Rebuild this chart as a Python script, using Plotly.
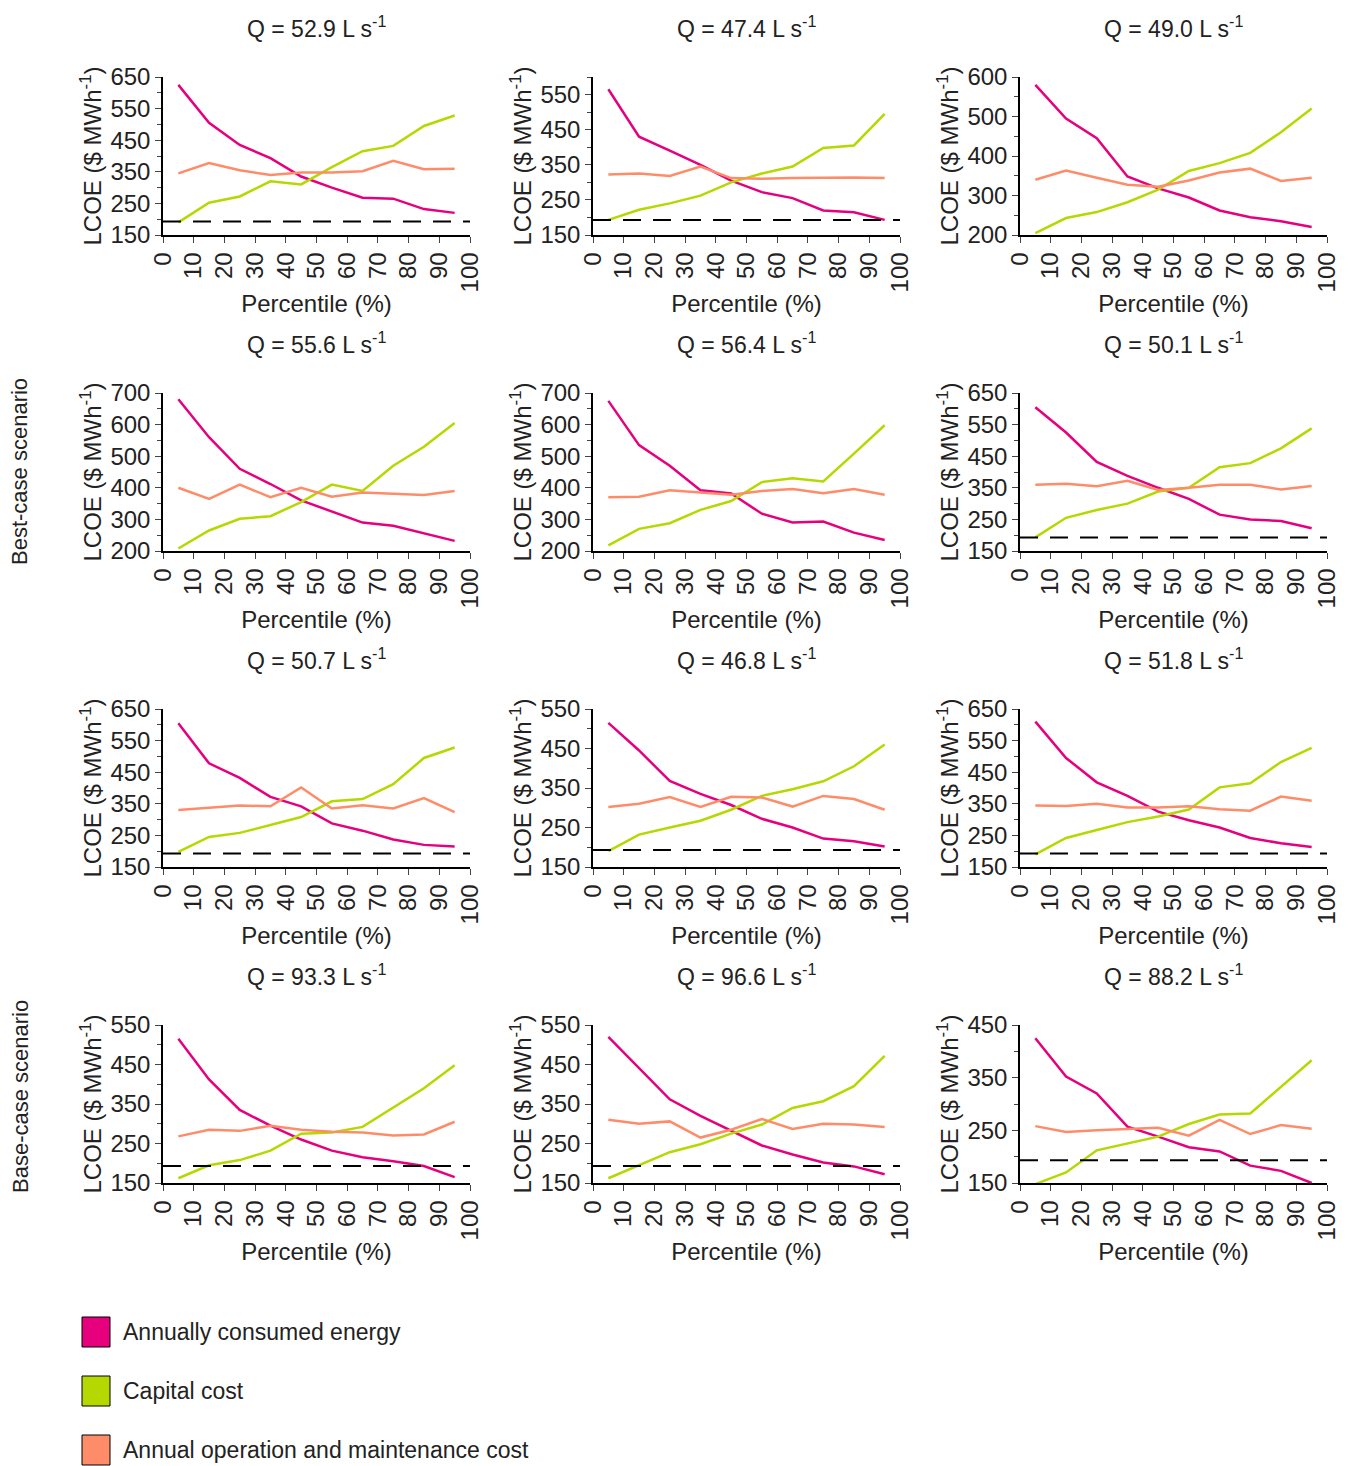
import plotly.graph_objects as go
from plotly.subplots import make_subplots

x = [5, 15, 25, 35, 45, 55, 65, 75, 85, 95]
titles = ["52.9", "47.4", "49.0", "55.6", "56.4", "50.1", "50.7", "46.8", "51.8", "93.3", "96.6", "88.2"]
ranges = [(150, 650), (150, 600), (200, 600), (200, 700), (200, 700), (150, 650),
          (150, 650), (150, 550), (150, 650), (150, 550), (150, 550), (150, 450)]
energy = [
    [625, 505, 435, 393, 335, 300, 268, 265, 232, 220],
    [565, 430, 390, 350, 305, 272, 255, 220, 215, 193],
    [580, 495, 445, 348, 318, 295, 262, 245, 235, 220],
    [680, 560, 460, 412, 360, 325, 290, 280, 255, 232],
    [675, 535, 470, 392, 382, 318, 290, 293, 258, 235],
    [605, 525, 432, 388, 350, 315, 265, 250, 245, 222],
    [605, 478, 432, 372, 342, 288, 265, 237, 220, 215],
    [515, 445, 368, 335, 307, 272, 250, 222, 215, 202],
    [610, 495, 418, 375, 325, 298, 275, 242, 225, 213],
    [515, 412, 335, 295, 260, 232, 215, 205, 193, 165],
    [520, 440, 362, 320, 282, 245, 222, 202, 192, 172],
    [425, 352, 320, 257, 238, 218, 210, 183, 173, 150],
]
capital = [
    [190, 252, 272, 320, 310, 365, 415, 432, 495, 528],
    [193, 222, 240, 262, 300, 325, 345, 398, 405, 495],
    [205, 243, 258, 283, 315, 362, 382, 408, 460, 520],
    [208, 265, 302, 310, 355, 410, 390, 470, 530, 605],
    [218, 270, 288, 330, 358, 418, 430, 420, 508, 598],
    [193, 255, 280, 300, 338, 350, 415, 428, 475, 538],
    [198, 245, 258, 283, 308, 358, 365, 412, 495, 528],
    [190, 232, 250, 267, 295, 330, 347, 367, 405, 460],
    [190, 242, 267, 292, 310, 332, 402, 415, 482, 527],
    [162, 195, 208, 232, 275, 278, 292, 342, 390, 448],
    [162, 195, 228, 248, 275, 298, 340, 357, 395, 472],
    [148, 170, 212, 225, 238, 262, 280, 282, 332, 383],
]
om = [
    [345, 378, 355, 340, 348, 348, 352, 385, 358, 360],
    [322, 325, 318, 345, 312, 310, 312, 313, 314, 312],
    [340, 363, 345, 327, 322, 338, 358, 368, 337, 345],
    [400, 365, 410, 370, 400, 372, 385, 380, 377, 390],
    [370, 372, 392, 384, 378, 390, 396, 383, 396, 378],
    [360, 363, 355, 372, 343, 350, 360, 360, 345, 356],
    [330, 338, 345, 342, 402, 335, 345, 335, 368, 324],
    [302, 310, 327, 302, 328, 326, 303, 330, 322, 295],
    [345, 343, 350, 338, 338, 342, 333, 328, 373, 360],
    [268, 285, 282, 295, 285, 280, 278, 270, 273, 305],
    [310, 300, 306, 265, 285, 312, 287, 300, 298, 292],
    [258, 247, 250, 253, 255, 240, 270, 243, 260, 253],
]
reference_lcoe = 193
names = ["Annually consumed energy", "Capital cost", "Annual operation and maintenance cost"]
colors = ["#e6007e", "#b5d900", "#ff8c69"]

OFF = 8
W, H = 1348 - 2 * OFF, 1466 - OFF
colx = [(163, 470), (593, 900), (1020, 1327)]
rowy = [(77, 235), (393, 551), (709, 867), (1025, 1183)]
FONT = "Liberation Sans, Arial, sans-serif"

def px(v):
    return (v - OFF) / W

def py(v):
    return 1 - (v - OFF) / H

fig = make_subplots(rows=4, cols=3)
ann = []
for i in range(12):
    r, c = i // 3, i % 3
    for series, col, nm in zip([energy, capital, om], colors, names):
        fig.add_trace(go.Scatter(x=x, y=series[i], mode="lines", line=dict(color=col, width=2.5),
                                 name=nm, showlegend=False), row=r + 1, col=c + 1)
    lo, hi = ranges[i]
    if lo < reference_lcoe:
        fig.add_trace(go.Scatter(x=[0, 100], y=[reference_lcoe] * 2, mode="lines",
                                 line=dict(color="black", width=2, dash="18px,12px"),
                                 showlegend=False), row=r + 1, col=c + 1)
    x0, x1 = colx[c]; y0, y1 = rowy[r]
    fig.update_xaxes(domain=[px(x0), px(x1)], range=[0, 100], tickvals=list(range(0, 101, 10)),
                     tickangle=-90, ticks="outside", ticklen=6, showline=True, linecolor="black",
                     linewidth=1.5, showgrid=False, zeroline=False, automargin=False,
                     tickfont=dict(size=24),
                     title=dict(text="Percentile (%)", font=dict(size=24), standoff=4),
                     row=r + 1, col=c + 1)
    fig.update_yaxes(domain=[py(y1), py(y0)], range=[lo, hi], tick0=lo, dtick=100,
                     ticks="outside", ticklen=6, showline=True, linecolor="black", linewidth=1.5,
                     minor=dict(dtick=50, tick0=lo, ticks="outside", ticklen=4, showgrid=False),
                     showgrid=False, zeroline=False, automargin=False, tickfont=dict(size=24),
                     title=dict(text="LCOE ($ MWh<sup>-1</sup>)", font=dict(size=24), standoff=2),
                     row=r + 1, col=c + 1)
    ann.append(dict(text=f"Q = {titles[i]} L s<sup>-1</sup>", x=px((x0 + x1) / 2), y=py(y0 - 50),
                    xref="paper", yref="paper", showarrow=False, font=dict(size=23),
                    xanchor="center", yanchor="middle"))

ann.append(dict(text="Best-case scenario", x=px(20), y=py(472), xref="paper", yref="paper",
                showarrow=False, textangle=-90, font=dict(size=22), xanchor="center", yanchor="middle"))
ann.append(dict(text="Base-case scenario", x=px(20), y=py(1097), xref="paper", yref="paper",
                showarrow=False, textangle=-90, font=dict(size=22), xanchor="center", yanchor="middle"))
shapes = []
for k, (nm, col) in enumerate(zip(names, colors)):
    cy = 1332 + k * 59
    shapes.append(dict(type="rect", xref="paper", yref="paper", x0=px(82), x1=px(110),
                       y0=py(cy + 15), y1=py(cy - 15), fillcolor=col,
                       line=dict(color="black", width=1)))
    ann.append(dict(text=nm, x=px(121), y=py(cy), xref="paper", yref="paper", showarrow=False,
                    xanchor="left", yanchor="middle", font=dict(size=23)))

fig.update_layout(width=W, height=H, margin=dict(l=0, r=0, t=0, b=0, autoexpand=False),
                  plot_bgcolor="white",
                  paper_bgcolor="white", font=dict(family=FONT, size=22, color="#222"),
                  annotations=ann, shapes=shapes)
fig.write_html("out.html")
